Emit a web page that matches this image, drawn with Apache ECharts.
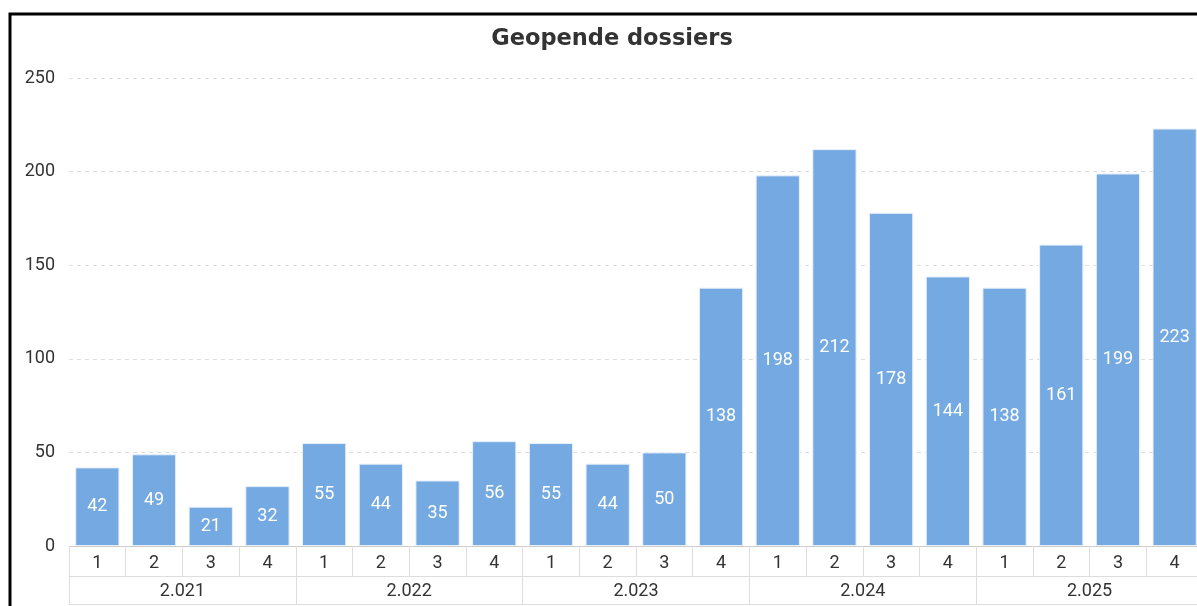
<!DOCTYPE html>
<html><head><meta charset="utf-8">
<script src="https://cdn.jsdelivr.net/npm/echarts@6/dist/echarts.min.js"></script>
<style>html,body{margin:0;padding:0;background:#fff;overflow:hidden}#c{width:1210px;height:606px}</style>
</head><body><div id="c"></div>
<script>
const quarters = ['1','2','3','4','1','2','3','4','1','2','3','4','1','2','3','4','1','2','3','4'];
const years = ['2.021','2.022','2.023','2.024','2.025'];
const values = [42,49,21,32,55,44,35,56,55,44,50,138,198,212,178,144,138,161,199,223];
const yTicks = {min:0,max:250,interval:50};
const font = 'Roboto';
const chart = echarts.init(document.getElementById('c'));
chart.setOption({
  animation:false,
  textStyle:{fontFamily:font},
  title:{text:'Geopende dossiers',left:607,top:23,textAlign:'center',
    textStyle:{fontFamily:'DejaVu Sans',fontSize:22.5,fontWeight:'bold',color:'#333'}},
  grid:{left:69,right:7,top:78,bottom:60,containLabel:false},
  graphic:[{type:'rect',shape:{x:10,y:14,width:1400,height:800},style:{fill:'none',stroke:'#000',lineWidth:3},z:100}],
  xAxis:[
    {type:'category',data:quarters,position:'bottom',
     axisLine:{show:true,lineStyle:{color:'#ccc',width:1}},
     axisTick:{show:true,length:30,interval:0,lineStyle:{color:'#ddd'}},
     axisLabel:{interval:0,margin:8,fontSize:18,color:'#333',fontFamily:font}},
    {type:'category',data:years,position:'bottom',offset:30,
     axisLine:{show:true,lineStyle:{color:'#ddd',width:1}},
     axisTick:{show:true,length:28,interval:0,lineStyle:{color:'#ddd'}},
     axisLabel:{interval:0,margin:6,fontSize:18,color:'#333',fontFamily:font}},
    {type:'category',data:years,position:'bottom',offset:58,
     axisLine:{show:true,lineStyle:{color:'#ddd',width:1}},
     axisTick:{show:false},axisLabel:{show:false}}
  ],
  yAxis:{type:'value',min:yTicks.min,max:yTicks.max,interval:yTicks.interval,
    axisLine:{show:false},axisTick:{show:false},
    splitLine:{show:true,lineStyle:{color:'#ddd',type:[4,4]}},
    axisLabel:{margin:14,fontSize:18,color:'#333',fontFamily:font}},
  series:[{type:'bar',data:values,xAxisIndex:0,barCategoryGap:'22%',
    itemStyle:{color:'#74a9e1',borderColor:'#e8f0fa',borderWidth:1},
    label:{show:true,position:'inside',color:'#fff',fontSize:18,fontFamily:font}}]
});
</script></body></html>
